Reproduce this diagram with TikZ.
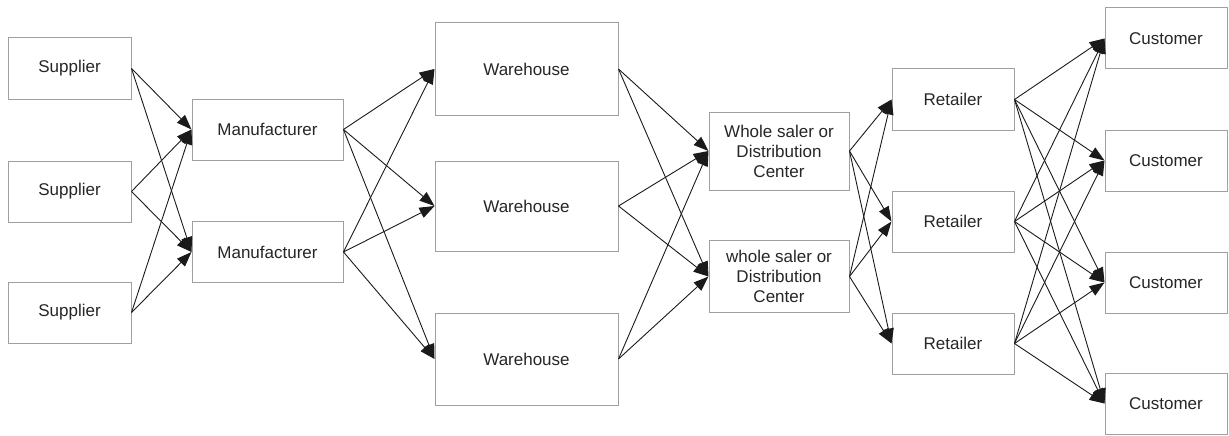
\documentclass[tikz,border=0pt]{standalone}
\usepackage{fontspec}
\setmainfont{Liberation Sans}
\usetikzlibrary{arrows.meta}
\definecolor{boxline}{HTML}{A0A0A0}
\definecolor{edgeline}{HTML}{1A1A1A}
\begin{document}
\begin{tikzpicture}[x=1pt,y=-1pt,
  box/.style={draw=boxline,line width=1pt,fill=white,align=center,inner sep=0pt,
    font=\fontsize{17}{20}\selectfont,text=black!85},
  link/.style={draw=edgeline,line width=0.9pt,-{Triangle[length=15pt,width=11pt]}}]
\useasboundingbox (0,0) rectangle (1229,436);
% suppliers
\node[box,minimum width=123pt,minimum height=61pt] (s1) at (69.5,68.5) {Supplier};
\node[box,minimum width=123pt,minimum height=61pt] (s2) at (69.5,191.5) {Supplier};
\node[box,minimum width=123pt,minimum height=61pt] (s3) at (69.5,312.5) {Supplier};
% manufacturers
\node[box,minimum width=151pt,minimum height=61pt] (m1) at (267.5,129.5) {Manufacturer};
\node[box,minimum width=151pt,minimum height=61pt] (m2) at (267.5,252) {Manufacturer};
% warehouses
\node[box,minimum width=183pt,minimum height=92pt] (w1) at (526.5,69) {Warehouse};
\node[box,minimum width=183pt,minimum height=90pt] (w2) at (526.5,206) {Warehouse};
\node[box,minimum width=183pt,minimum height=92pt] (w3) at (526.5,359) {Warehouse};
% wholesalers
\node[box,minimum width=140pt,minimum height=78pt] (d1) at (779,151) {Whole saler or\\Distribution\\Center};
\node[box,minimum width=140pt,minimum height=72pt] (d2) at (779,276.5) {whole saler or\\Distribution\\Center};
% retailers
\node[box,minimum width=122pt,minimum height=61pt] (r1) at (953,99.5) {Retailer};
\node[box,minimum width=122pt,minimum height=61pt] (r2) at (953,221.5) {Retailer};
\node[box,minimum width=122pt,minimum height=61pt] (r3) at (953,343.5) {Retailer};
% customers
\node[box,minimum width=122pt,minimum height=61pt] (c1) at (1166,38.5) {Customer};
\node[box,minimum width=122pt,minimum height=61pt] (c2) at (1166,160.5) {Customer};
\node[box,minimum width=122pt,minimum height=61pt] (c3) at (1166,282.5) {Customer};
\node[box,minimum width=122pt,minimum height=61pt] (c4) at (1166,403.5) {Customer};
% connectors
\foreach \a in {s1,s2,s3}{\foreach \b in {m1,m2}{\draw[link] (\a.east) -- (\b.west);}}
\foreach \a in {m1,m2}{\foreach \b in {w1,w2,w3}{\draw[link] (\a.east) -- (\b.west);}}
\foreach \a in {w1,w2,w3}{\foreach \b in {d1,d2}{\draw[link] (\a.east) -- (\b.west);}}
\foreach \a in {d1,d2}{\foreach \b in {r1,r2,r3}{\draw[link] (\a.east) -- (\b.west);}}
\foreach \a in {r1,r2,r3}{\foreach \b in {c1,c2,c3,c4}{\draw[link] (\a.east) -- (\b.west);}}
\end{tikzpicture}
\end{document}
